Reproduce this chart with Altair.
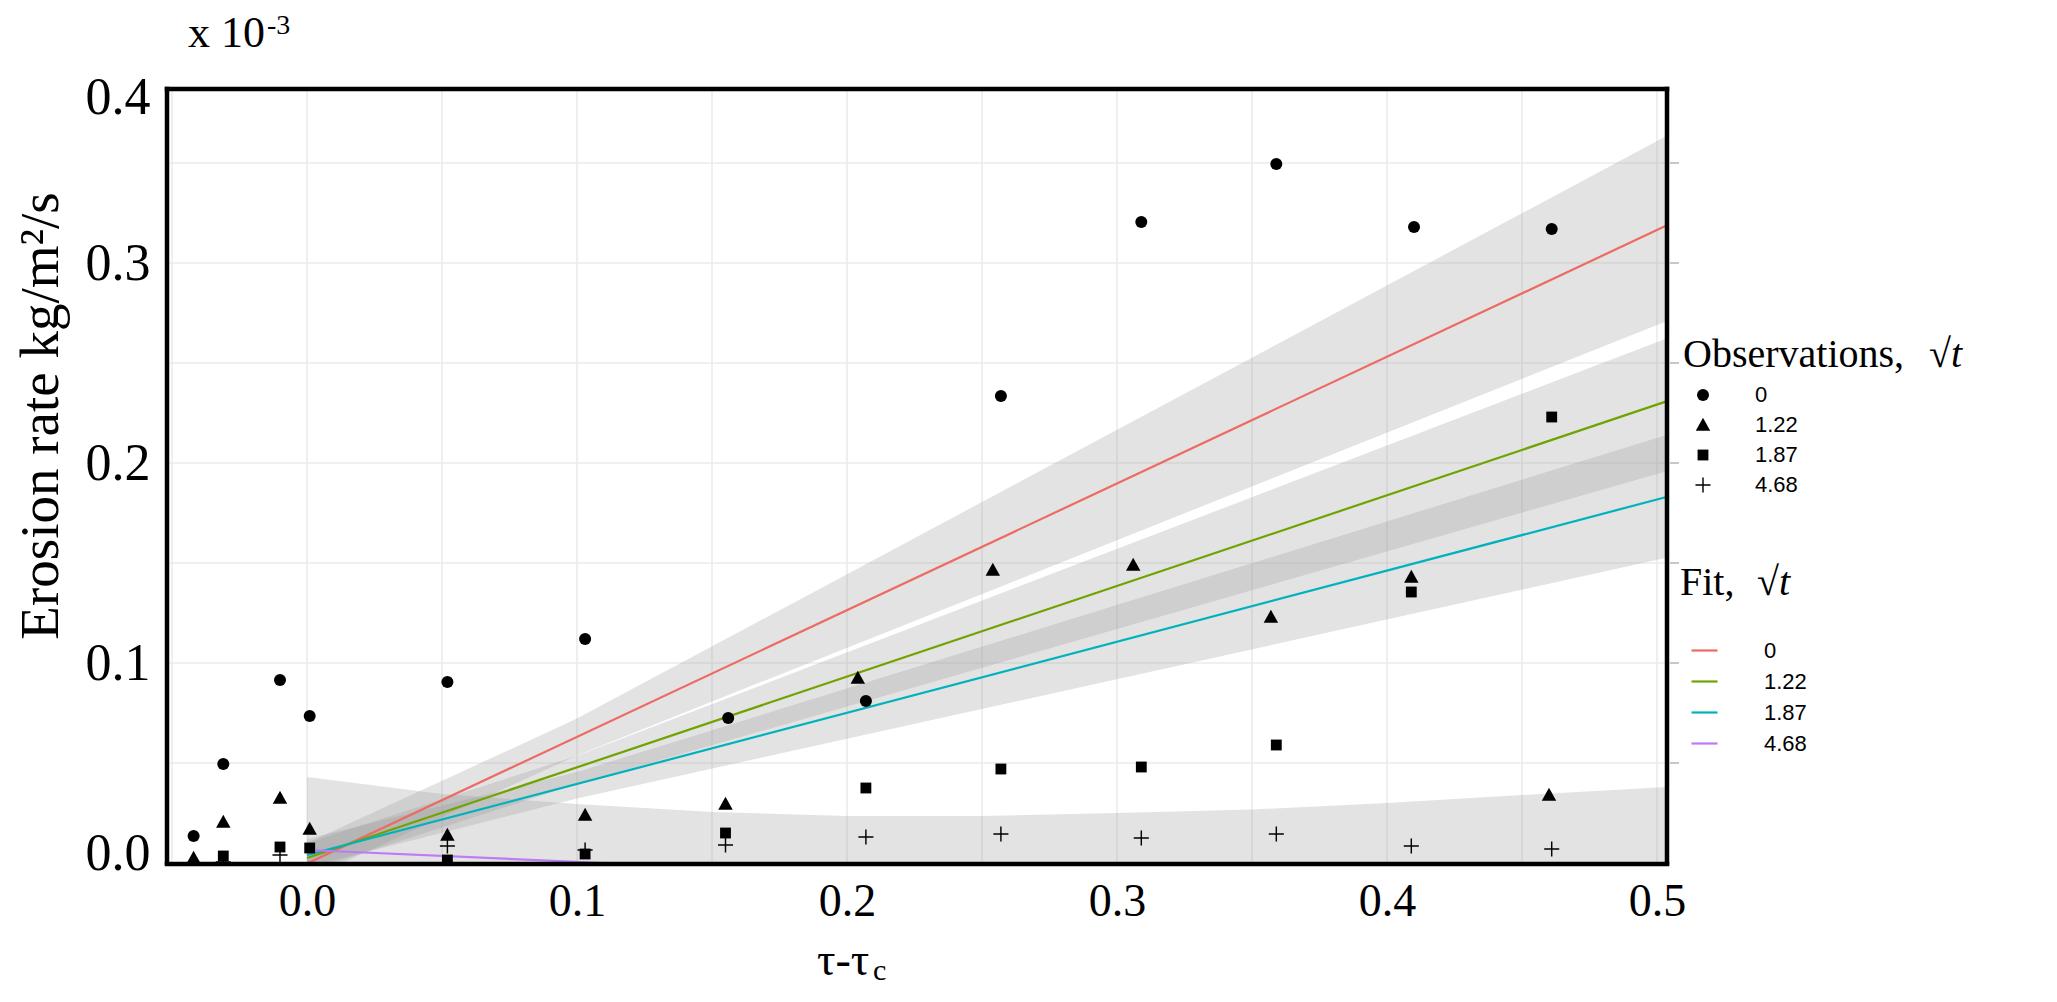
import altair as alt
import pandas as pd

# ---------------- data ----------------
groups = ["0", "1.22", "1.87", "4.68"]

# observations
c_x = [-0.042, -0.031, -0.010, 0.001, 0.052, 0.103, 0.156, 0.207, 0.257, 0.309, 0.359, 0.410, 0.461]
c_y = [0.0135, 0.0495, 0.0915, 0.0735, 0.0905, 0.112, 0.0725, 0.081, 0.2335, 0.3205, 0.3495, 0.318, 0.317]

t_x = [-0.042, -0.031, -0.010, 0.001, 0.052, 0.103, 0.155, 0.204, 0.254, 0.306, 0.357, 0.409, 0.460]
t_y = [0.0025, 0.0205, 0.0325, 0.017, 0.014, 0.024, 0.0295, 0.0925, 0.1465, 0.149, 0.123, 0.143, 0.034]

s_x = [-0.031, -0.010, 0.001, 0.052, 0.103, 0.155, 0.207, 0.257, 0.309, 0.359, 0.409, 0.461]
s_y = [0.0035, 0.008, 0.0075, 0.0015, 0.0045, 0.015, 0.0375, 0.047, 0.048, 0.059, 0.1355, 0.223]

p_x = [-0.031, -0.010, 0.052, 0.103, 0.155, 0.207, 0.257, 0.309, 0.359, 0.409, 0.461]
p_y = [0.0005, 0.004, 0.0085, 0.0065, 0.009, 0.013, 0.0145, 0.0125, 0.0145, 0.0085, 0.007]

# fitted lines (start / end points)
fit0_x, fit0_y = [0.0, 0.5035], [-0.0003, 0.3187]
fit1_x, fit1_y = [0.0, 0.5035], [0.0025, 0.2308]
fit2_x, fit2_y = [0.0, 0.5035], [0.0040, 0.1830]
fit3_x, fit3_y = [0.0, 0.11], [0.0065, 0.0]

# confidence bands
band0_x, band0_lo, band0_hi = [0.0, 0.1, 0.5035], [-0.008, 0.0538, 0.2709], [0.010, 0.0722, 0.3635]
band1_x, band1_lo, band1_hi = [0.0, 0.1, 0.5035], [-0.004, 0.0395, 0.1959], [0.010, 0.0536, 0.2623]
band2_x, band2_lo, band2_hi = [0.0, 0.1, 0.5035], [-0.002, 0.0323, 0.1526], [0.012, 0.0455, 0.2140]
band3_x = [0.0, 0.05, 0.10, 0.15, 0.20, 0.25, 0.30, 0.35, 0.40, 0.45, 0.5035]
band3_hi = [0.043, 0.0345, 0.0295, 0.0255, 0.0235, 0.0235, 0.025, 0.0267, 0.030, 0.034, 0.038]
band3_lo = [0.0] * len(band3_x)

x_ticks = [0.0, 0.1, 0.2, 0.3, 0.4, 0.5]
y_label_pos = [0.005, 0.1, 0.2, 0.3, 0.383]
x_grid = [-0.05, 0.0, 0.05, 0.1, 0.15, 0.2, 0.25, 0.3, 0.35, 0.4, 0.45, 0.5]
y_grid = [0.0, 0.05, 0.1, 0.15, 0.2, 0.25, 0.3, 0.35]

line_colors = ["#EC6B62", "#71A300", "#00B2BC", "#BE7BF7"]
TRI = "M0,-1.2L1.2,0.95L-1.2,0.95Z"
SQR = "M-0.9,-0.9H0.9V0.9H-0.9Z"
PLUS = "M-1.25,-0.12H1.25V0.12H-1.25Z M-0.12,-1.25H0.12V1.25H-0.12Z"
shapes = ["circle", TRI, SQR, PLUS]

# ---------------- tables ----------------
obs = pd.concat([
    pd.DataFrame({"x": c_x, "y": c_y, "st": groups[0]}),
    pd.DataFrame({"x": t_x, "y": t_y, "st": groups[1]}),
    pd.DataFrame({"x": s_x, "y": s_y, "st": groups[2]}),
    pd.DataFrame({"x": p_x, "y": p_y, "st": groups[3]}),
])
fits = pd.concat([
    pd.DataFrame({"x": fit0_x, "y": fit0_y, "fit": groups[0]}),
    pd.DataFrame({"x": fit1_x, "y": fit1_y, "fit": groups[1]}),
    pd.DataFrame({"x": fit2_x, "y": fit2_y, "fit": groups[2]}),
    pd.DataFrame({"x": fit3_x, "y": fit3_y, "fit": groups[3]}),
])
bands = pd.concat([
    pd.DataFrame({"x": band0_x, "lo": band0_lo, "hi": band0_hi, "g": "a"}),
    pd.DataFrame({"x": band1_x, "lo": band1_lo, "hi": band1_hi, "g": "b"}),
    pd.DataFrame({"x": band2_x, "lo": band2_lo, "hi": band2_hi, "g": "c"}),
    pd.DataFrame({"x": band3_x, "lo": band3_lo, "hi": band3_hi, "g": "d"}),
])

W, H = 1500, 774
SERIF = "Liberation Serif"

xscale = alt.Scale(domain=[-0.05185, 0.5037], nice=False, zero=False)
yscale = alt.Scale(domain=[0, 0.387], nice=False, zero=False)

xaxis = alt.Axis(values=x_ticks, format=".1f", labelFont=SERIF, labelFontSize=46,
                 labelColor="black", labelPadding=16, ticks=False, domain=False,
                 grid=False, title=None, labelFlush=False, labelOverlap=False)
yaxis = alt.Axis(values=y_label_pos, labelExpr="format(round(datum.value*10)/10, '.1f')",
                 labelFont=SERIF, labelFontSize=52, labelColor="black", labelPadding=17,
                 ticks=False, domain=False, grid=False, title=None, labelBaseline="middle",
                 labelFlush=False, labelOverlap=False)

X = lambda f: alt.X(f, type="quantitative", scale=xscale, axis=xaxis)
Y = lambda f: alt.Y(f, type="quantitative", scale=yscale, axis=yaxis)

vgrid = alt.Chart(pd.DataFrame({"x": x_grid})).mark_rule(color="#ebebeb", strokeWidth=1.6).encode(
    x=X("x"), y=alt.value(0), y2=alt.value(H))
hgrid = alt.Chart(pd.DataFrame({"y": y_grid})).mark_rule(color="#ebebeb", strokeWidth=1.6).encode(
    y=Y("y"), x=alt.value(0), x2=alt.value(W))

ribbons = alt.Chart(bands).mark_area(fill="#999999", opacity=0.28, clip=True).encode(
    x=X("x"), y=Y("lo"), y2="hi", detail="g:N")

lines = alt.Chart(fits).mark_line(strokeWidth=2.2, clip=True).encode(
    x=X("x"), y=Y("y"),
    color=alt.Color("fit:N", scale=alt.Scale(domain=groups, range=line_colors),
                    legend=alt.Legend(title="Fit,", orient="none", legendX=1513, legendY=474,
                                      titleFont=SERIF, titleFontSize=40, titleFontWeight="normal",
                                      titleColor="black", titlePadding=33, labelFont="Liberation Sans",
                                      labelFontSize=22, labelColor="black", symbolType="stroke",
                                      symbolSize=676, symbolStrokeWidth=2.2, symbolOffset=10,
                                      labelOffset=45, rowPadding=5, padding=0)))

points = alt.Chart(obs).mark_point(filled=True, size=145, color="black", opacity=1, clip=True).encode(
    x=X("x"), y=Y("y"),
    shape=alt.Shape("st:N", scale=alt.Scale(domain=groups, range=shapes),
                    legend=alt.Legend(title="Observations,", orient="none", legendX=1516, legendY=246,
                                      titleFont=SERIF, titleFontSize=40, titleFontWeight="normal",
                                      titleColor="black", titlePadding=9, titleLimit=600,
                                      labelFont="Liberation Sans", labelFontSize=22, labelColor="black",
                                      symbolSize=145, symbolFillColor="black", symbolOpacity=1,
                                      symbolOffset=9, labelOffset=41, rowPadding=8, padding=0)))

one = pd.DataFrame({"k": [0]})
frame_style = dict(color="black", strokeWidth=4.5, strokeCap="square")
frame_left = alt.Chart(one).mark_rule(**frame_style).encode(
    x=alt.value(0), y=alt.value(0), y2=alt.value(H))
frame_top = alt.Chart(one).mark_rule(**frame_style).encode(
    x=alt.value(0), x2=alt.value(W), y=alt.value(0))
frame_right = alt.Chart(one).mark_rule(**frame_style).encode(
    x=alt.value(W), y=alt.value(0), y2=alt.value(H))
frame_bottom = alt.Chart(one).mark_rule(**frame_style).encode(
    x=alt.value(0), x2=alt.value(W), y=alt.value(H + 1))
rticks = alt.Chart(pd.DataFrame({"y": y_grid[1:]})).mark_rule(color="#b5b5b5", strokeWidth=1.5).encode(
    y=Y("y"), x=alt.value(W + 3), x2=alt.value(W + 12))


def label(txt, x, y, size, **kw):
    return alt.Chart(one).mark_text(text=txt, font=SERIF, fontSize=size, color="black",
                                    align=kw.pop("align", "left"), baseline=kw.pop("baseline", "alphabetic"),
                                    **kw).encode(x=alt.value(x), y=alt.value(y))


texts = [
    label("x 10", 21, -42, 44),
    label("-3", 100, -55, 28),
    label("Erosion rate kg/m²/s", -126, 327, 55, align="center", baseline="middle", angle=270),
    label("τ-τ", 650, 886, 46),
    label("c", 706, 891, 30),
    label("√t", 1762, 266, 40, baseline="middle", fontStyle="italic"),
    label("√t", 1590, 494, 40, baseline="middle", fontStyle="italic"),
]

chart = alt.layer(vgrid, hgrid, ribbons, lines, points, frame_left, frame_top, frame_right,
                  frame_bottom, rticks, *texts).resolve_scale(
    color="independent", shape="independent").properties(
    width=W, height=H,
    padding={"left": 159, "top": 81, "right": 370, "bottom": 130},
    autosize=alt.AutoSizeParams(type="none"),
).configure_view(stroke="transparent").configure(background="white")

chart.save("out.html", embed_options={"renderer": "svg", "actions": False})
